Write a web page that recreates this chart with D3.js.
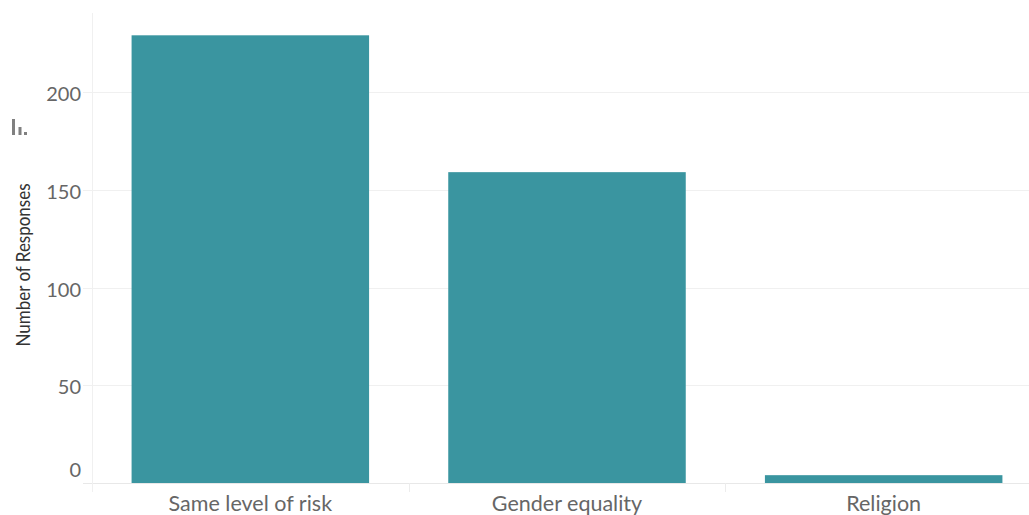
<!DOCTYPE html>
<html><head><meta charset="utf-8">
<script src="https://cdn.jsdelivr.net/npm/d3@7"></script>
<style>body{margin:0;background:#fff}svg{display:block}</style>
</head><body>
<svg id="c" width="1029" height="515"></svg>
<script>
const categories = ["Same level of risk", "Gender equality", "Religion"];
const responses = [229, 159, 4];
const yTicks = [0, 50, 100, 150, 200];
const yTitle = "Number of Responses";

(function () {
const svg = d3.select("#c");
const W = 1029;
const pLeft = 92, pRight = 1042, pTop = 13, base = 483;
const x = d3.scaleBand().domain(categories).range([pLeft, pRight]).paddingInner(0.25).paddingOuter(0.125);
const y = d3.scaleLinear().domain([0, 200]).range([base, 92]);
const font = "Lato, 'Open Sans', sans-serif";

svg.append("g").selectAll("line").data(yTicks).join("line")
  .attr("x1", 83).attr("x2", W).attr("y1", d => Math.round(y(d)) + 0.5).attr("y2", d => Math.round(y(d)) + 0.5)
  .attr("stroke", d => d === 0 ? "#e8e8e8" : "#f0f0f0").attr("stroke-width", 1);
svg.append("line").attr("x1", pLeft + 0.5).attr("x2", pLeft + 0.5).attr("y1", pTop).attr("y2", base + 9)
  .attr("stroke", "#f0f0f0");
const dividers = categories.slice(1).map(c => x(c) - x.step() * x.paddingInner() / 2);
svg.append("g").selectAll("line").data(dividers).join("line")
  .attr("x1", d => Math.round(d) + 0.5).attr("x2", d => Math.round(d) + 0.5)
  .attr("y1", base).attr("y2", base + 9).attr("stroke", "#ececec");

svg.append("g").selectAll("rect").data(categories).join("rect")
  .attr("x", d => x(d)).attr("width", x.bandwidth())
  .attr("y", (d, i) => y(responses[i])).attr("height", (d, i) => base - y(responses[i]))
  .attr("fill", "#3a95a0");

svg.append("g").selectAll("text").data(yTicks).join("text")
  .attr("x", 81).attr("y", d => d === 0 ? y(d) - 13 : y(d) + 2).attr("dy", "0.35em").attr("text-anchor", "end")
  .attr("font-family", font).attr("font-size", 20).attr("fill", "#666")
  .text(d => d);

svg.append("g").selectAll("text").data(categories).join("text")
  .attr("x", d => x(d) + x.bandwidth() / 2).attr("y", 511).attr("text-anchor", "middle")
  .attr("font-family", font).attr("font-size", 21.5).attr("fill", "#666")
  .text(d => d);

svg.append("text").attr("transform", "translate(30,265) rotate(-90)").attr("text-anchor", "middle")
  .attr("font-family", font).attr("font-size", 19.5).attr("fill", "#333")
  .attr("textLength", 163).attr("lengthAdjust", "spacingAndGlyphs").text(yTitle);
const icon = svg.append("g").attr("transform", "translate(12,119)").attr("fill", "#808080");
icon.append("rect").attr("x", 0).attr("y", 0).attr("width", 3).attr("height", 16);
icon.append("rect").attr("x", 6.5).attr("y", 8).attr("width", 3).attr("height", 8);
icon.append("rect").attr("x", 12).attr("y", 13).attr("width", 3).attr("height", 3);
})();
</script>
</body></html>
